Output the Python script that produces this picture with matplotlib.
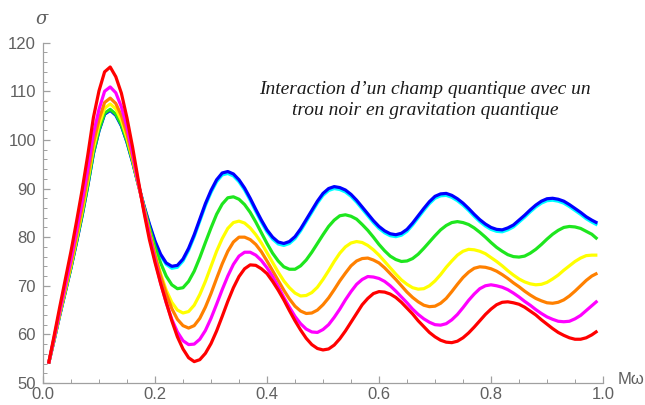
import numpy as np
import matplotlib
matplotlib.use("Agg")
import matplotlib.pyplot as plt
from matplotlib.ticker import MultipleLocator, FormatStrFormatter

# Frequency grid M*omega: 0.01 ... 0.99
m_omega = np.round(np.arange(1, 100) * 0.01, 2)

# Cross sections sigma for each case (one row per 0.1 of M*omega)
sigma_blue = [
    54.0, 58.9, 64.0, 68.8, 73.7, 79.0, 84.5, 90.6, 97.2, 101.9,
    105.3, 106.1, 105.1, 102.9, 99.5, 95.4, 90.9, 86.6, 82.7, 79.2,
    76.5, 74.7, 74.0, 74.2, 75.5, 77.7, 80.5, 83.7, 86.9, 89.6,
    91.8, 93.2, 93.5, 93.0, 91.8, 90.1, 88.0, 85.7, 83.5, 81.5,
    80.0, 79.0, 78.7, 79.1, 80.1, 81.7, 83.6, 85.5, 87.4, 89.0,
    90.0, 90.4, 90.2, 89.7, 88.8, 87.6, 86.2, 84.8, 83.4, 82.2,
    81.3, 80.7, 80.5, 80.8, 81.6, 82.9, 84.4, 85.9, 87.3, 88.4,
    88.9, 89.0, 88.6, 87.9, 87.0, 85.9, 84.7, 83.6, 82.7, 82.0,
    81.6, 81.5, 81.9, 82.5, 83.5, 84.5, 85.6, 86.6, 87.4, 87.9,
    88.0, 87.8, 87.4, 86.7, 85.9, 85.1, 84.2, 83.5, 82.9]

sigma_cyan = [
    54.0, 58.9, 64.0, 68.9, 73.8, 79.1, 84.6, 90.6, 97.2, 101.9,
    105.3, 106.1, 105.1, 102.9, 99.6, 95.5, 90.9, 86.5, 82.5, 79.0,
    76.2, 74.4, 73.6, 73.8, 75.1, 77.3, 80.1, 83.3, 86.5, 89.2,
    91.4, 92.8, 93.1, 92.6, 91.4, 89.7, 87.6, 85.3, 83.1, 81.1,
    79.6, 78.6, 78.3, 78.7, 79.7, 81.3, 83.2, 85.1, 87.0, 88.6,
    89.6, 90.0, 89.8, 89.3, 88.4, 87.2, 85.8, 84.4, 83.0, 81.8,
    80.9, 80.3, 80.1, 80.4, 81.2, 82.5, 84.0, 85.5, 86.9, 88.0,
    88.5, 88.6, 88.2, 87.5, 86.6, 85.5, 84.3, 83.2, 82.3, 81.6,
    81.2, 81.1, 81.5, 82.1, 83.1, 84.1, 85.2, 86.2, 87.0, 87.5,
    87.6, 87.4, 87.0, 86.3, 85.5, 84.7, 83.8, 83.1, 82.5]

sigma_green = [
    54.0, 59.0, 64.1, 68.9, 73.8, 79.2, 84.7, 90.8, 97.4, 102.1,
    105.5, 106.3, 105.3, 103.1, 99.7, 95.6, 90.9, 86.4, 82.0, 78.0,
    74.7, 72.0, 70.2, 69.4, 69.6, 70.9, 73.0, 75.8, 78.9, 81.9,
    84.7, 86.8, 88.1, 88.3, 87.8, 86.7, 85.1, 83.1, 80.9, 78.7,
    76.7, 75.1, 73.9, 73.4, 73.4, 74.1, 75.3, 76.9, 78.7, 80.5,
    82.2, 83.5, 84.4, 84.6, 84.3, 83.7, 82.6, 81.4, 80.0, 78.5,
    77.2, 76.1, 75.4, 75.0, 75.1, 75.6, 76.5, 77.7, 79.0, 80.3,
    81.5, 82.4, 83.0, 83.2, 83.0, 82.6, 81.9, 81.0, 80.0, 78.9,
    77.9, 77.1, 76.4, 76.0, 75.9, 76.1, 76.7, 77.5, 78.5, 79.6,
    80.6, 81.4, 82.0, 82.2, 82.1, 81.8, 81.2, 80.6, 79.6]

sigma_yellow = [
    54.0, 59.1, 64.3, 69.2, 74.2, 79.7, 85.4, 91.6, 98.3, 103.1,
    106.5, 107.4, 106.4, 104.0, 100.4, 96.0, 91.0, 86.0, 81.1, 76.5,
    72.5, 69.1, 66.6, 65.0, 64.4, 64.7, 66.0, 68.2, 70.9, 74.0,
    77.1, 79.7, 81.8, 83.0, 83.3, 82.9, 81.9, 80.5, 78.8, 76.8,
    74.8, 72.8, 71.0, 69.6, 68.5, 67.9, 68.0, 68.6, 69.7, 71.3,
    73.1, 75.0, 76.7, 78.0, 78.8, 79.1, 78.9, 78.3, 77.4, 76.3,
    75.0, 73.7, 72.4, 71.2, 70.3, 69.6, 69.3, 69.4, 70.0, 71.0,
    72.3, 73.8, 75.1, 76.3, 77.1, 77.5, 77.4, 77.1, 76.6, 75.8,
    75.0, 74.1, 73.1, 72.2, 71.4, 70.8, 70.4, 70.2, 70.3, 70.7,
    71.4, 72.2, 73.2, 74.1, 75.0, 75.7, 76.2, 76.3, 76.3]

sigma_orange = [
    54.0, 59.2, 64.5, 69.6, 74.7, 80.3, 86.1, 92.4, 99.3, 104.2,
    107.7, 108.6, 107.5, 105.0, 101.2, 96.4, 91.1, 85.9, 81.0, 76.3,
    72.0, 68.4, 65.3, 63.1, 61.8, 61.3, 61.8, 63.3, 65.6, 68.4,
    71.5, 74.5, 77.1, 79.0, 80.0, 80.0, 79.5, 78.5, 77.0, 75.1,
    73.1, 71.1, 69.1, 67.3, 65.8, 64.8, 64.3, 64.4, 65.0, 66.1,
    67.5, 69.2, 71.0, 72.6, 74.1, 75.1, 75.6, 75.7, 75.3, 74.7,
    73.7, 72.5, 71.3, 70.0, 68.7, 67.6, 66.7, 66.0, 65.7, 65.8,
    66.4, 67.4, 68.8, 70.3, 71.7, 72.8, 73.6, 73.9, 73.8, 73.5,
    73.0, 72.3, 71.5, 70.6, 69.8, 68.9, 68.1, 67.4, 66.9, 66.5,
    66.4, 66.6, 67.1, 67.9, 68.9, 70.0, 71.1, 72.0, 72.6]

sigma_magenta = [
    54.0, 59.4, 64.9, 70.2, 75.5, 81.4, 87.4, 94.0, 101.2, 106.3,
    110.0, 110.9, 109.7, 106.8, 102.6, 97.2, 91.3, 85.7, 80.3, 75.3,
    70.6, 66.5, 63.1, 60.5, 58.7, 57.9, 58.0, 59.0, 60.8, 63.3,
    66.2, 69.2, 72.0, 74.4, 76.1, 76.9, 76.9, 76.3, 75.2, 73.7,
    71.9, 69.8, 67.6, 65.6, 63.7, 62.2, 61.1, 60.5, 60.4, 61.0,
    62.0, 63.5, 65.2, 67.1, 68.8, 70.3, 71.3, 71.9, 71.8, 71.5,
    70.9, 70.0, 68.9, 67.7, 66.5, 65.2, 64.1, 63.2, 62.5, 62.0,
    61.9, 62.2, 63.0, 64.1, 65.5, 67.0, 68.3, 69.4, 70.0, 70.2,
    70.0, 69.7, 69.2, 68.5, 67.7, 66.8, 66.0, 65.1, 64.3, 63.6,
    63.1, 62.7, 62.6, 62.7, 63.2, 63.9, 64.9, 65.9, 66.9]

sigma_red = [
    54.0, 59.8, 65.7, 71.4, 77.1, 83.3, 89.8, 96.9, 104.6, 110.1,
    114.0, 115.0, 113.0, 109.6, 104.5, 98.5, 91.8, 85.3, 79.5, 74.8,
    70.5, 66.6, 62.8, 59.5, 57.0, 55.2, 54.4, 54.8, 56.1, 58.1,
    60.7, 63.7, 66.8, 69.6, 71.9, 73.5, 74.3, 74.2, 73.5, 72.5,
    70.9, 69.1, 67.1, 64.9, 62.8, 60.9, 59.2, 57.9, 57.1, 56.8,
    57.0, 57.8, 59.1, 60.7, 62.5, 64.3, 66.1, 67.4, 68.4, 68.8,
    68.7, 68.3, 67.6, 66.6, 65.4, 64.2, 62.8, 61.6, 60.4, 59.5,
    58.8, 58.4, 58.3, 58.6, 59.3, 60.3, 61.5, 62.8, 64.1, 65.2,
    66.1, 66.6, 66.7, 66.5, 66.2, 65.6, 64.8, 64.0, 63.0, 62.1,
    61.2, 60.4, 59.8, 59.3, 59.0, 59.0, 59.3, 59.9, 60.7]

# Drawing order: later curves sit on top
series = [
    (sigma_cyan, "#00FFFF"),
    (sigma_blue, "#0000FF"),
    (sigma_green, "#1EE61E"),
    (sigma_yellow, "#FFFF00"),
    (sigma_orange, "#FF8000"),
    (sigma_magenta, "#FF00FF"),
    (sigma_red, "#FF0000"),
]

title_lines = "Interaction d\u2019un champ quantique avec un\ntrou noir en gravitation quantique"

axis_grey = "#A0A0A0"
label_grey = "#606060"

fig = plt.figure(figsize=(6.45, 4.05), dpi=100)
ax = fig.add_axes([43 / 645, 22 / 405, 560 / 645, 340.3 / 405])

for values, color in series:
    ax.plot(m_omega, values, color=color, lw=2.3, solid_joinstyle="round",
            solid_capstyle="butt", clip_on=False)

ax.set_xlim(0, 1)
ax.set_ylim(50, 120)

for side in ("top", "right"):
    ax.spines[side].set_visible(False)
for side in ("left", "bottom"):
    ax.spines[side].set_color(axis_grey)
    ax.spines[side].set_linewidth(0.9)

ax.xaxis.set_major_locator(MultipleLocator(0.2))
ax.xaxis.set_minor_locator(MultipleLocator(0.05))
ax.yaxis.set_major_locator(MultipleLocator(10))
ax.yaxis.set_minor_locator(MultipleLocator(2))
ax.xaxis.set_major_formatter(FormatStrFormatter("%.1f"))

ax.tick_params(which="major", direction="in", length=5, width=0.9,
               color=axis_grey, labelcolor=label_grey, labelsize=12)
ax.tick_params(which="minor", direction="in", length=3, width=0.7,
               color=axis_grey)
ax.tick_params(axis="y", pad=5)
ax.tick_params(axis="x", pad=3)
for lab in ax.get_xticklabels() + ax.get_yticklabels():
    lab.set_fontfamily("Liberation Sans")

fig.text(42 / 645, 1 - 19 / 405, "\u03c3", ha="center", va="center",
         fontsize=13, style="italic", color=label_grey, family="DejaVu Serif")
fig.text(631 / 645, 1 - 380 / 405, "M\u03c9", ha="center", va="center",
         fontsize=12, color=label_grey, family="Liberation Sans")

fig.text(425 / 645, 1 - 100 / 405, title_lines, ha="center", va="center",
         fontsize=14, style="italic", family="Liberation Serif",
         color="#1a1a1a", linespacing=1.3)

fig.savefig("out.png", dpi=100, facecolor="white")
